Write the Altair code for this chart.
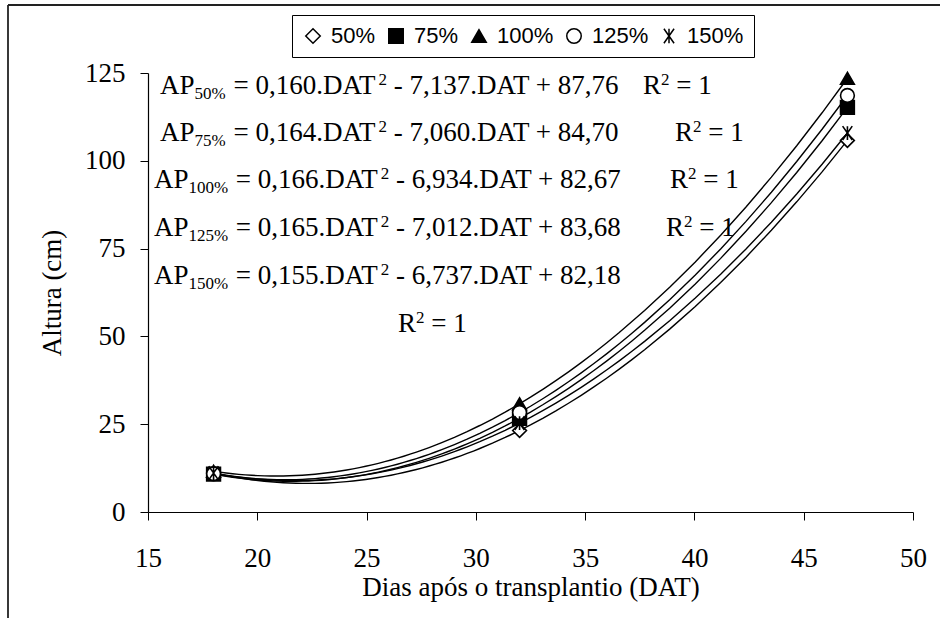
import altair as alt
import pandas as pd

# ---- data -----------------------------------------------------------------
dat = [18, 32, 47]
doses = ["50%", "75%", "100%", "125%", "150%"]
altura_50 = [11.1, 23.2, 105.8]
altura_75 = [10.8, 26.7, 115.2]
altura_100 = [11.6, 30.8, 123.5]
altura_125 = [10.9, 28.3, 118.6]
altura_150 = [11.1, 25.3, 107.9]

# fitted equations: text before and after the squared term
eq_head = [" = 0,160.DAT", " = 0,164.DAT", " = 0,166.DAT", " = 0,165.DAT", " = 0,155.DAT"]
eq_tail = [" - 7,137.DAT + 87,76", " - 7,060.DAT + 84,70", " - 6,934.DAT + 82,67",
           " - 7,012.DAT + 83,68", " - 6,737.DAT + 82,18"]

# ---- layout ---------------------------------------------------------------
PLOT_W, PLOT_H = 765, 439
X_DOMAIN, Y_DOMAIN = [15, 50], [0, 125]
SERIF, SANS = "Liberation Serif", "Liberation Sans"
FS, FS_SMALL = 27, 17

# equation anchors in data units (DAT, Altura)
eq_x = [15.55, 15.55, 15.27, 15.27, 15.27]
eq_y = [119.0, 105.6, 92.3, 78.6, 64.9]
r2_x = [37.65, 39.11, 38.88, 38.70, 26.44]
r2_y = [119.0, 105.6, 92.3, 78.6, 51.25]

# Times-compatible advance widths (em) used to chain text pieces
ADV = {"A": 0.722, "P": 0.556, "D": 0.722, "T": 0.611, "R": 0.667, "%": 0.833,
       " ": 0.25, ",": 0.25, ".": 0.25, "=": 0.564, "-": 0.333, "+": 0.564}


def text_px(s, size):
    return sum(ADV.get(c, 0.5) for c in s) * size


px_per_dat = PLOT_W / (X_DOMAIN[1] - X_DOMAIN[0])


class Line:
    """Chains text pieces left to right on one baseline."""

    def __init__(self, x, y):
        self.x, self.y = x, y

    def put(self, bucket, s, size, gap=0.0):
        # SVG drops leading blanks, so turn them into an offset
        lead = len(s) - len(s.lstrip(" "))
        body = s.lstrip(" ")
        x = self.x + (text_px(" " * lead, size) + gap) / px_per_dat
        bucket.append({"x": x, "y": self.y, "t": body})
        self.x = x + text_px(body, size) / px_per_dat


rows = []
for d, vals in zip(doses, [altura_50, altura_75, altura_100, altura_125, altura_150]):
    for x, v in zip(dat, vals):
        rows.append({"DAT": x, "Altura": v, "Dose": d})
df = pd.DataFrame(rows)

# pieces of text: normal size, subscripts and superscripts
normal, sub, sup = [], [], []
for x0, y0, d, head, tail in zip(eq_x, eq_y, doses, eq_head, eq_tail):
    ln = Line(x0, y0)
    ln.put(normal, "AP", FS)
    ln.put(sub, d, FS_SMALL)
    ln.put(normal, head, FS, gap=1)
    ln.put(sup, "2", FS_SMALL)
    ln.put(normal, tail, FS)
for x0, y0 in zip(r2_x, r2_y):
    ln = Line(x0, y0)
    ln.put(normal, "R", FS)
    ln.put(sup, "2", FS_SMALL)
    ln.put(normal, " = 1", FS)

normal_df, sub_df, sup_df = pd.DataFrame(normal), pd.DataFrame(sub), pd.DataFrame(sup)

X_TITLE = "Dias após o transplantio (DAT)"
Y_TITLE = "Altura (cm)"

x_axis = alt.Axis(
    values=list(range(15, 51, 5)), tickSize=8, tickColor="black", tickWidth=1,
    domainColor="black", domainWidth=1.2, labelFont=SERIF, labelFontSize=FS,
    labelColor="black", labelPadding=25, labelFlush=False, labelOverlap=False,
    grid=False, title=X_TITLE, titleFont=SERIF, titleFontSize=FS,
    titleFontWeight="normal", titleColor="black", titleY=62, titleBaseline="top",
)
y_axis = alt.Axis(
    values=list(range(0, 126, 25)), tickSize=8, tickColor="black", tickWidth=1,
    domainColor="black", domainWidth=1.2, labelFont=SERIF, labelFontSize=FS,
    labelColor="black", labelPadding=15, labelFlush=False, labelOverlap=False,
    grid=False, title=Y_TITLE, titleFont=SERIF, titleFontSize=FS,
    titleFontWeight="normal", titleColor="black", titleAngle=270,
    titleX=-88, titleBaseline="alphabetic",
)


def xq(field):
    return alt.X(f"{field}:Q", scale=alt.Scale(domain=X_DOMAIN, nice=False), axis=x_axis, title=X_TITLE)


def yq(field):
    return alt.Y(f"{field}:Q", scale=alt.Scale(domain=Y_DOMAIN, nice=False), axis=y_axis, title=Y_TITLE)


legend = alt.Legend(
    title=None, orient="none", legendX=144, legendY=-58, direction="horizontal",
    columns=5, strokeColor="black", fillColor="white", padding=10,
    labelFont=SANS, labelFontSize=22, labelColor="black", labelOffset=7,
    columnPadding=9, symbolSize=210, symbolStrokeWidth=1.5, symbolOpacity=1,
)

star = "M-0.7,-1L0.7,1M-0.7,1L0.7,-1M0,-1L0,1"
shape_range = ["diamond", "square", "triangle-up", "circle", star]
fill_range = ["white", "black", "black", "white", "transparent"]
stroke_range = ["black"] * 5

base = alt.Chart(df)

curves = base.transform_regression(
    "DAT", "Altura", groupby=["Dose"], method="poly", order=2, extent=[18, 47]
).mark_line(color="black", strokeWidth=1.4).encode(
    x=xq("DAT"), y=yq("Altura"), detail="Dose:N"
)

points = base.mark_point(opacity=1, strokeWidth=1.6, size=190).encode(
    x=xq("DAT"),
    y=yq("Altura"),
    shape=alt.Shape("Dose:N", scale=alt.Scale(domain=doses, range=shape_range), legend=legend),
    fill=alt.Fill("Dose:N", scale=alt.Scale(domain=doses, range=fill_range), legend=legend),
    stroke=alt.Stroke("Dose:N", scale=alt.Scale(domain=doses, range=stroke_range), legend=legend),
)


def text_layer(frame, size, dy=0):
    return alt.Chart(frame).mark_text(
        font=SERIF, fontSize=size, color="black", align="left",
        baseline="alphabetic", dy=dy,
    ).encode(x=xq("x"), y=yq("y"), text="t:N")


normal_text = text_layer(normal_df, FS)
sub_text = text_layer(sub_df, FS_SMALL, dy=5)
sup_text = text_layer(sup_df, FS_SMALL, dy=-9)

# outer frame of the figure (top and left edges)
frame_df = pd.DataFrame({"k": [0]})
frame_left = alt.Chart(frame_df).mark_rule(color="#222222", strokeWidth=1.8).encode(
    x=alt.value(-140), y=alt.value(-68), y2=alt.value(545)
)
frame_top = alt.Chart(frame_df).mark_rule(color="#222222", strokeWidth=1.8).encode(
    x=alt.value(-140), x2=alt.value(792), y=alt.value(-68)
)

chart = alt.layer(
    frame_left, frame_top, curves, points, normal_text, sub_text, sup_text
).properties(
    width=PLOT_W, height=PLOT_H,
    padding={"left": 148, "top": 73, "right": 27, "bottom": 106},
    autosize=alt.AutoSizeParams(type="none"),
    background="white",
).configure_view(stroke=None).configure_axis(
    labelFont=SERIF, titleFont=SERIF
)

chart.save("out.html", embed_options={"renderer": "svg", "actions": False})
